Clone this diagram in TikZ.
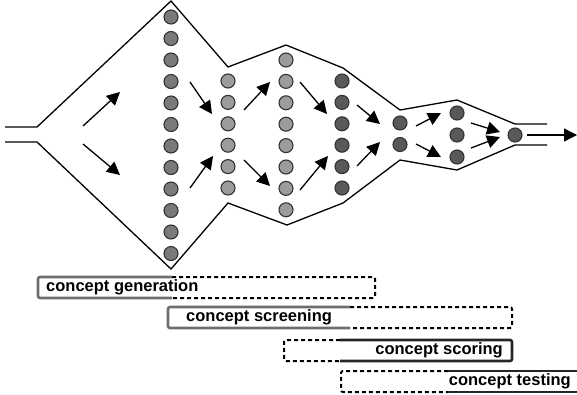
\documentclass[tikz,border=0pt]{standalone}
\usepackage{fontspec}
\setmainfont{Liberation Sans}
\usepackage{tikz}
\usetikzlibrary{arrows.meta}
\usepackage{xcolor}

\definecolor{gendot}{HTML}{7A7A7A}
\definecolor{scrdot}{HTML}{9C9C9C}
\definecolor{latedot}{HTML}{595959}
\definecolor{barsolid}{HTML}{6E6E6E}

\tikzset{
    dot/.style={draw=black!80, line width=1.1pt, circle, inner sep=0pt, minimum size=14pt},
    flow/.style={-{Triangle[length=13pt, width=13pt]}, line width=1.3pt},
    wall/.style={line width=1.3pt},
    barline/.style={line width=2.6pt, rounded corners=2pt},
    bardash/.style={line width=2pt, dash pattern=on 4pt off 3pt, rounded corners=2pt},
    phase/.style={font=\bfseries\fontsize{16.5}{17}\selectfont, inner sep=0pt}
}

\begin{document}
\begin{tikzpicture}[x=1pt, y=-1pt]
    \useasboundingbox (0,0) rectangle (577,394);

    % funnel walls
    \draw[wall] (5,127) -- (37,127) -- (171,1) -- (228,67) -- (286,45) -- (343,68)
        -- (400,110) -- (457,100) -- (515,124) -- (547,124);
    \draw[wall] (5,142) -- (37,142) -- (171,269) -- (228,203) -- (287,225) -- (343,203)
        -- (400,160) -- (457,170) -- (515,145) -- (547,145);

    % concepts
    \foreach \i in {1,...,12}
        \node[dot, fill=gendot] (a\i) at (171, {17+(\i-1)*21.5}) {};
    \foreach \i in {1,...,6}
        \node[dot, fill=scrdot] (b\i) at (228, {81+(\i-1)*21.4}) {};
    \foreach \i in {1,...,8}
        \node[dot, fill=scrdot] (c\i) at (286, {60+(\i-1)*21.4}) {};
    \foreach \i in {1,...,6}
        \node[dot, fill=latedot] (d\i) at (342, {81+(\i-1)*21.4}) {};
    \foreach \i in {1,2}
        \node[dot, fill=latedot] (e\i) at (400, {123+(\i-1)*21.5}) {};
    \foreach \i in {1,2,3}
        \node[dot, fill=latedot] (f\i) at (457, {113+(\i-1)*22}) {};
    \node[dot, fill=latedot] (g1) at (515,135) {};

    % flow arrows
    \foreach \sx/\sy/\tx/\ty in {83/126/120/92, 83/144/120/175,
        190/82/212/114, 190/188/213/156, 244/110/270/82, 244/160/270/186,
        300/82/327/114, 300/190/328/156, 357/105/380/124, 357/166/380/142,
        416/126/441/113, 416/144/441/157, 471/123/500/132, 471/148/500/137}
        \draw[flow] (\sx,\sy) -- (\tx,\ty);
    \draw[flow] (527,135) -- (577,135);

    % phases
    \draw[barline, barsolid] (172,277) -- (38,277) -- (38,298) -- (172,298);
    \draw[bardash] (172,277) -- (375,277) -- (375,298) -- (172,298);
    \node[phase, anchor=west] (gen) at (46,287.5) {concept generation};

    \draw[barline, barsolid] (350,307) -- (168,307) -- (168,328) -- (350,328);
    \draw[bardash] (350,307) -- (512,307) -- (512,328) -- (350,328);
    \node[phase, anchor=west] (scr) at (186,317.5) {concept screening};

    \draw[bardash] (340,340) -- (284,340) -- (284,361) -- (340,361);
    \draw[barline, black!85] (340,340) -- (512,340) -- (512,361) -- (340,361);
    \node[phase, anchor=east] (sco) at (503,350.5) {concept scoring};

    \draw[bardash] (448,371) -- (341,371) -- (341,392) -- (448,392);
    \draw[barline, black!85] (448,371) -- (578,371);
    \draw[barline, black!85] (448,392) -- (578,392);
    \node[phase, anchor=east] (tes) at (571,381.5) {concept testing};
\end{tikzpicture}
\end{document}
